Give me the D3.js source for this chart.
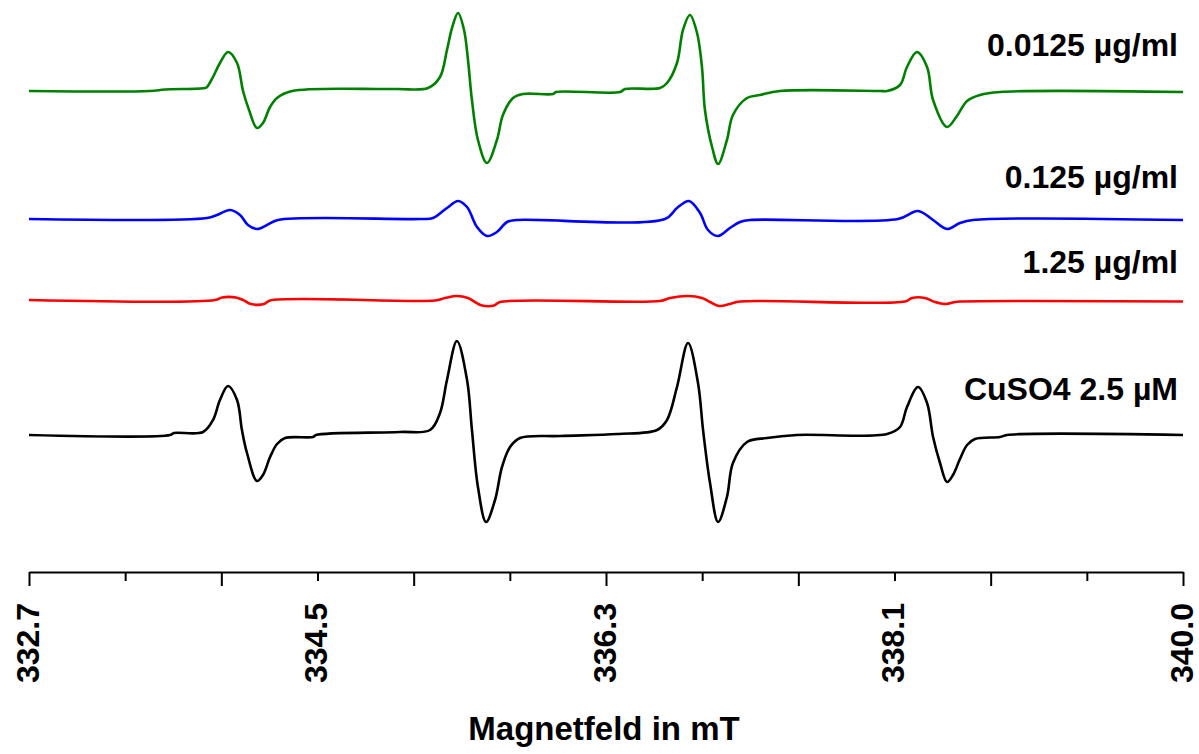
<!DOCTYPE html>
<html>
<head>
<meta charset="utf-8">
<script src="https://cdn.jsdelivr.net/npm/d3@7"></script>
<style>
  body { margin: 0; background: #fff; }
  text { font-family: "Liberation Sans", Arial, sans-serif; font-weight: bold; }
</style>
</head>
<body>
<script>
// field in mT, signal in a.u. relative to the trace baseline
let green = [[332.70, 0], [333.465, 0], [333.560, 1.5], [333.813, 3], [333.826, 4], [333.864, 14], [333.908, 28], [333.959, 39],
  [334.016, 28], [334.054, 0], [334.092, -19], [334.142, -37], [334.180, -32], [334.225, -16], [334.269, -7], [334.364, 0],
  [335.015, 2], [335.224, 3], [335.300, 14], [335.344, 41], [335.376, 63], [335.414, 78], [335.452, 61], [335.477, 31],
  [335.502, -9], [335.540, -49], [335.597, -72], [335.660, -49], [335.698, -24], [335.762, -7], [335.825, -3], [336.015, -3],
  [336.034, -1], [336.439, -1], [336.470, 2], [336.692, 3], [336.736, 8], [336.799, 28], [336.837, 61], [336.881, 76],
  [336.926, 58], [336.957, 24], [336.976, -19], [337.021, -56], [337.059, -73], [337.115, -49], [337.153, -24], [337.242, -7],
  [337.324, -4], [337.451, 0], [338.083, 0], [338.128, 0], [338.210, 6], [338.254, 24], [338.317, 39], [338.381, 24],
  [338.419, -9], [338.507, -36], [338.570, -25], [338.634, -10], [338.716, -4], [338.842, -1], [340.0, -1]];

let blue = [[332.70, 0], [333.826, 1], [333.889, 4], [333.972, 9], [334.035, 4], [334.085, -6], [334.142, -10], [334.206, -6],
  [334.275, -1], [335.173, 0], [335.256, 1], [335.344, 11], [335.414, 18], [335.471, 12], [335.534, -8], [335.597, -17],
  [335.660, -13], [335.724, -3], [335.787, -1], [336.723, 0], [336.799, 11], [336.875, 18], [336.945, 6], [336.995, -11],
  [337.059, -17], [337.134, -9], [337.198, -3], [337.261, -1], [338.197, 0], [338.324, 8], [338.419, -1], [338.507, -10],
  [338.589, -4], [338.672, -1], [340.0, -1]];

let red = [[332.70, 0], [333.877, 0], [333.921, 2.5], [334.009, 2.5], [334.054, 0], [334.104, -4], [334.187, -4], [334.225, -0.5],
  [335.268, -0.5], [335.332, 2], [335.407, 4], [335.477, 2], [335.521, -2], [335.566, -5.5], [335.642, -5.5], [335.679, -2],
  [336.692, -1], [336.755, 2], [336.869, 4], [336.957, 2], [337.008, -2], [337.065, -6], [337.134, -4], [337.198, -1.5],
  [338.241, -1.5], [338.286, 2], [338.368, 2], [338.431, -2], [338.501, -4], [338.558, -2], [338.589, -1.5], [340.0, -1.5]];

let black = [[332.70, 0], [333.592, 0], [333.617, 2], [333.801, 3], [333.864, 15], [333.908, 35], [333.959, 49], [334.016, 35],
  [334.047, 5], [334.079, -18], [334.142, -46], [334.180, -40], [334.225, -22], [334.269, -9], [334.320, -3], [334.497, -2],
  [334.516, 0], [335.047, 3], [335.237, 5], [335.300, 22], [335.344, 55], [335.407, 94], [335.471, 55], [335.502, 5],
  [335.540, -52], [335.591, -87], [335.648, -65], [335.692, -32], [335.743, -12], [335.806, -3], [336.059, -1], [336.420, 1],
  [336.673, 5], [336.736, 15], [336.799, 48], [336.869, 92], [336.932, 52], [336.964, 5], [337.008, -48], [337.059, -87],
  [337.115, -62], [337.153, -28], [337.242, -7], [337.368, -3], [337.558, 0], [338.128, 1], [338.210, 8], [338.254, 28],
  [338.324, 48], [338.381, 32], [338.419, -2], [338.463, -28], [338.507, -47], [338.545, -40], [338.589, -24], [338.634, -10],
  [338.684, -4], [338.842, -2], [338.887, 0], [340.0, 0]];

let seriesNames = ["0.0125 µg/ml", "0.125 µg/ml", "1.25 µg/ml", "CuSO4 2.5 µM"];
let seriesData = [green, blue, red, black];
let seriesColors = ["#008000", "#0000ff", "#ff0000", "#000000"];
let seriesOffsets = [481, 353, 272, 137]; // vertical stacking of the spectra, a.u.

let xMin = 332.7, xMax = 340.0;
let tickLabels = ["332.7", "334.5", "336.3", "338.1", "340.0"]; // every third tick carries a label
let axisTitle = "Magnetfeld in mT";

let width = 1199, height = 754;
let axisY = 572;

let svg = d3.select("body").append("svg")
  .attr("width", width)
  .attr("height", height);

let x = d3.scaleLinear().domain([xMin, xMax]).range([29, 1183]);
let y = d3.scaleLinear().domain([0, axisY]).range([axisY, 0]);

// traces
seriesData.forEach((data, i) => {
  let line = d3.line()
    .x(d => x(d[0]))
    .y(d => y(d[1] + seriesOffsets[i]))
    .curve(d3.curveCatmullRom.alpha(0.5));
  svg.append("path")
    .datum(data)
    .attr("fill", "none")
    .attr("stroke", seriesColors[i])
    .attr("stroke-width", 2.6)
    .attr("stroke-linejoin", "round")
    .attr("d", line);
});

// labels, right aligned above each trace
let labelY = [56, 188, 273, 400];
svg.selectAll(".seriesLabel")
  .data(seriesNames)
  .enter().append("text")
  .attr("class", "seriesLabel")
  .attr("x", 1178)
  .attr("y", (d, i) => labelY[i])
  .attr("text-anchor", "end")
  .attr("font-size", 32)
  .attr("fill", "#000")
  .text(d => d);

// x axis: 13 ticks, long and short alternating, label on every third
let tickVals = d3.range(13).map(i => xMin + i * (xMax - xMin) / 12);
let xAxis = d3.axisBottom(x)
  .tickValues(tickVals)
  .tickSizeOuter(0)
  .tickFormat((d, i) => i % 3 === 0 ? tickLabels[i / 3] : "");

let xAxisGroup = svg.append("g").attr("transform", "translate(0," + axisY + ")");
xAxis(xAxisGroup);
xAxisGroup.select(".domain").attr("stroke", "#000").attr("stroke-width", 2);
xAxisGroup.selectAll(".tick line")
  .attr("stroke", "#000")
  .attr("stroke-width", 2)
  .attr("y2", (d, i) => i % 2 === 0 ? 14 : 9);
xAxisGroup.selectAll(".tick text")
  .attr("transform", "rotate(-90)")
  .attr("x", -31)
  .attr("y", 9)
  .attr("dy", 0)
  .attr("text-anchor", "end")
  .attr("font-size", 32)
  .attr("font-family", "Liberation Sans, Arial, sans-serif")
  .attr("font-weight", "bold")
  .attr("fill", "#000");

svg.append("text")
  .attr("x", 604)
  .attr("y", 740)
  .attr("text-anchor", "middle")
  .attr("font-size", 33)
  .attr("fill", "#000")
  .text(axisTitle);
</script>
</body>
</html>
